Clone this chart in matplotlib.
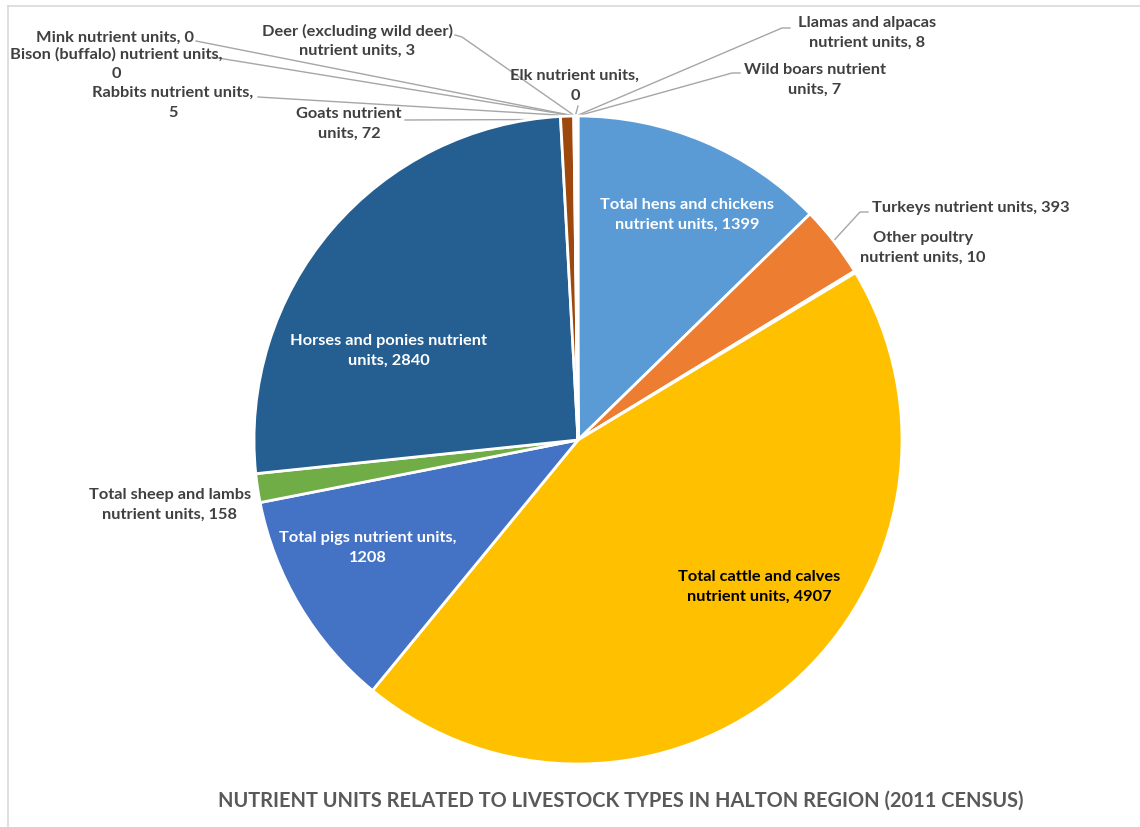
import matplotlib
matplotlib.use("Agg")
import matplotlib.pyplot as plt
import numpy as np

# Livestock categories and nutrient units (Halton Region, 2011 Census)
categories = [
    "Total hens and chickens nutrient units",
    "Turkeys nutrient units",
    "Other poultry nutrient units",
    "Total cattle and calves nutrient units",
    "Total pigs nutrient units",
    "Total sheep and lambs nutrient units",
    "Horses and ponies nutrient units",
    "Goats nutrient units",
    "Rabbits nutrient units",
    "Bison (buffalo) nutrient units",
    "Mink nutrient units",
    "Deer (excluding wild deer) nutrient units",
    "Elk nutrient units",
    "Llamas and alpacas nutrient units",
    "Wild boars nutrient units",
]
values = [1399, 393, 10, 4907, 1208, 158, 2840, 72, 5, 0, 0, 3, 0, 8, 7]

colors = ["#5B9BD5", "#ED7D31", "#A5A5A5", "#FFC000", "#4472C4", "#70AD47",
          "#255E91", "#9E480E", "#636363", "#997300", "#264478", "#43682B",
          "#7CAFDD", "#F1975A", "#B7B7B7"]

title = "NUTRIENT UNITS RELATED TO LIVESTOCK TYPES IN HALTON REGION (2011 CENSUS)"

W, H = 1140, 827
FONT = "Lato"
FS = 11.8
LS = 1.5
LABEL_COLOR = "#404040"
LEADER_COLOR = "#A6A6A6"

fig = plt.figure(figsize=(W / 100, H / 100), dpi=100)
ax = fig.add_axes([0, 0, 1, 1])


def Y(y):
    """Convert a top-down pixel row to axes y."""
    return H - y


cx, cy, R = 578, Y(440), 324
wedges, _ = ax.pie(values, colors=colors, startangle=90, counterclock=False,
                   center=(cx, cy), radius=R, frame=True,
                   wedgeprops=dict(edgecolor="white", linewidth=2))
ax.set_xlim(0, W)
ax.set_ylim(0, H)
ax.set_aspect("equal")
ax.axis("off")

# chart frame (top and left edges visible)
ax.plot([8, W + 5], [Y(6), Y(6)], color="#D9D9D9", lw=1.2)
ax.plot([8, 8], [Y(6), Y(H + 5)], color="#D9D9D9", lw=1.2)

# inside labels: (index, x, y, text with line break, color)
inside = [
    (0, 687, 215, "Total hens and chickens\nnutrient units, 1399", "white"),
    (6, 389, 351, "Horses and ponies nutrient\nunits, 2840", "white"),
    (4, 368, 548, "Total pigs nutrient units,\n1208", "white"),
    (3, 759, 587, "Total cattle and calves\nnutrient units, 4907", "black"),
]
for i, x, y, txt, col in inside:
    ax.text(x, Y(y), txt, ha="center", va="center", color=col,
            fontsize=FS, fontweight="bold", family=FONT, linespacing=LS)

# outside labels: (index, text x, text y, text, leader start or None, elbow or None)
outside = [
    (10, 115, 38, "Mink nutrient units, 0", (196, 41), None),
    (9, 116, 64, "Bison (buffalo) nutrient units,\n0", (212, 57), None),
    (8, 173, 103, "Rabbits nutrient units,\n5", (258, 97), None),
    (7, 349, 124, "Goats nutrient\nunits, 72", (405, 120), None),
    (11, 357, 41, "Deer (excluding wild deer)\nnutrient units, 3", (455, 35), (462, 37)),
    (12, 575, 86, "Elk nutrient units,\n0", (578, 106), None),
    (13, 867, 33, "Llamas and alpacas\nnutrient units, 8", (790, 28), (782, 28)),
    (14, 815, 80, "Wild boars nutrient\nunits, 7", (740, 73), (732, 73)),
    (1, 971, 208, "Turkeys nutrient units, 393", (868, 212), (860, 212)),
    (2, 923, 248, "Other poultry\nnutrient units, 10", None, None),
    (5, 170, 505, "Total sheep and lambs\nnutrient units, 158", None, None),
]
for i, x, y, txt, start, elbow in outside:
    ax.text(x, Y(y), txt, ha="center", va="center", color=LABEL_COLOR,
            fontsize=FS, fontweight="bold", family=FONT, linespacing=LS)
    if start is None:
        continue
    w = wedges[i]
    mid = np.deg2rad((w.theta1 + w.theta2) / 2)
    edge_r = R * (0.99 if values[i] > 50 else 1.0)
    ex, ey = cx + edge_r * np.cos(mid), cy + edge_r * np.sin(mid)
    xs = [start[0]]
    ys = [Y(start[1])]
    if elbow is not None:
        xs.append(elbow[0])
        ys.append(Y(elbow[1]))
    xs.append(ex)
    ys.append(ey)
    ax.plot(xs, ys, color=LEADER_COLOR, lw=1.0, zorder=0.5)

ax.text(621, Y(801), title, ha="center", va="center", color="#595959",
        fontsize=14.4, fontweight="bold", family=FONT)

fig.savefig("out.png", dpi=100, facecolor="white")
